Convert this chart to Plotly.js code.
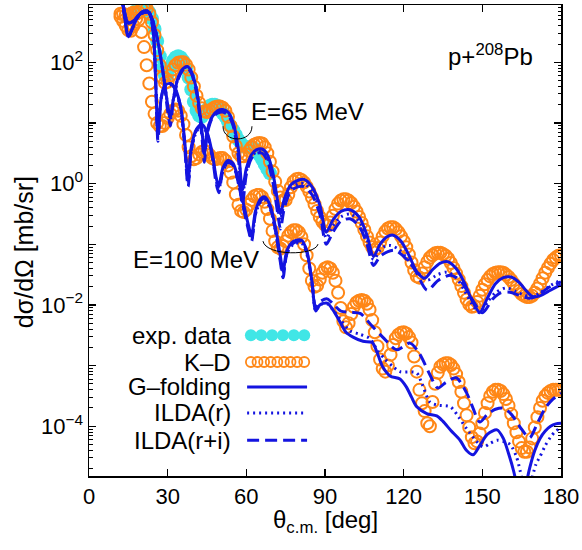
<!DOCTYPE html>
<html>
<head>
<meta charset="utf-8">
<script src="https://cdn.plot.ly/plotly-3.0.1.min.js"></script>
<style>body{margin:0;background:#fff}#chart{width:582px;height:550px}</style>
</head>
<body>
<div id="chart"></div>
<script>
// p + 208Pb elastic scattering; cross sections stored as log10(dσ/dΩ in mb/sr)

// ---------- E = 65 MeV ----------
const expAngle65 = [16,17,18,19,20,21,22,23,24,25,26,27,28,29,30,31,32,33,34,35,36,37,38,39,40,41,42,43,44,45,46,47,48,49,50,51,52,53,54,55,56,57,58,59,60,61,62,63,64,65,66,67,68,69];
const expLog65 = [2.75,2.8,2.85,2.88,2.9,2.9,2.88,2.82,2.72,2.55,2.35,2.1,1.9,1.78,1.8,1.92,2.02,2.08,2.1,2.08,2.02,1.9,1.75,1.55,1.35,1.2,1.12,1.1,1.15,1.22,1.28,1.3,1.3,1.28,1.22,1.16,1.1,1.02,0.95,0.88,0.8,0.72,0.66,0.62,0.6,0.6,0.6,0.58,0.54,0.47,0.4,0.32,0.24,0.17];

// K-D, one point per degree from 12 to 180
const kdStart65 = 12;
const kdLog65 = [2.75,2.68,2.6,2.53,2.52,2.6,2.72,2.82,2.88,2.9,2.88,2.8,2.66,2.45,2.2,1.95,1.75,1.66,1.68,1.78,
  1.88,1.95,1.99,2.0,2.0,1.96,1.88,1.75,1.6,1.45,1.33,1.24,1.19,1.18,1.2,1.23,1.26,1.27,1.27,1.25,
  1.2,1.1,0.95,0.78,0.62,0.5,0.45,0.45,0.48,0.54,0.6,0.64,0.66,0.67,0.66,0.6,0.5,0.36,0.2,0.03,
  -0.12,-0.23,-0.28,-0.27,-0.18,-0.06,0.03,0.07,0.08,0.06,0.02,-0.05,-0.13,-0.23,-0.34,-0.45,-0.55,-0.63,-0.68,-0.69,
  -0.64,-0.53,-0.42,-0.33,-0.28,-0.26,-0.26,-0.28,-0.32,-0.38,-0.46,-0.55,-0.65,-0.76,-0.87,-0.97,-1.05,-1.09,-1.06,-0.97,
  -0.87,-0.79,-0.74,-0.72,-0.72,-0.75,-0.8,-0.87,-0.95,-1.05,-1.17,-1.3,-1.43,-1.53,-1.55,-1.48,-1.38,-1.29,-1.22,-1.18,
  -1.15,-1.14,-1.14,-1.16,-1.19,-1.24,-1.31,-1.39,-1.48,-1.58,-1.69,-1.8,-1.91,-1.99,-2.03,-2.02,-1.95,-1.85,-1.75,-1.66,
  -1.59,-1.53,-1.49,-1.47,-1.46,-1.46,-1.47,-1.5,-1.54,-1.59,-1.65,-1.71,-1.77,-1.82,-1.85,-1.87,-1.87,-1.85,-1.8,-1.73,
  -1.65,-1.56,-1.47,-1.39,-1.32,-1.26,-1.22,-1.19,-1.18];

const gfAngle65 = [13,14,15,16,18,20,22,24,26,28,30,31,32,34,36,37.5,39,41,43,44,45,47,49,51,53,55,57,58.5,60,62,64,66,68,70,72,73,74.5,77,80,82,85,88,90.5,93,96,99.5,103,106,108.5,111,113.5,116,119,122,125,128,131,134,137,140,143,146,149,152,155,158,161,164,167,169,172,175,178,180];
const gfLog65 = [2.95,2.62,2.42,2.5,2.7,2.82,2.85,2.72,2.4,1.9,1.3,1.08,1.35,1.75,1.9,1.93,1.85,1.55,0.9,0.5,0.85,1.1,1.2,1.22,1.18,1.0,0.55,-0.1,0.25,0.48,0.56,0.57,0.48,0.2,-0.3,-0.5,-0.25,-0.02,0.06,0.07,-0.05,-0.35,-0.8,-0.6,-0.46,-0.43,-0.55,-0.85,-1.2,-1.0,-0.88,-0.85,-0.95,-1.18,-1.45,-1.56,-1.42,-1.31,-1.29,-1.4,-1.62,-1.92,-2.12,-1.88,-1.65,-1.55,-1.54,-1.63,-1.78,-1.86,-1.85,-1.78,-1.71,-1.67];

const ildaRAngle65 = [13,14,15,16,18,20,22,24,26,28,30,31,32,34,36,37.5,39,41,43,44,45,47,49,51,53,55,57,58.5,60,62,64,66,68,70,72,73,74.5,77,80,82,85,88,90.5,93,96,99.5,103,106,108.5,111,113,115,118,121,125,129,133,136.5,140,143,146,149,152,155,159,163,166,169,172,176,180];
const ildaRLog65 = [2.95,2.62,2.42,2.5,2.7,2.82,2.85,2.72,2.4,1.9,1.3,1.05,1.35,1.75,1.9,1.92,1.85,1.55,0.9,0.45,0.85,1.1,1.18,1.2,1.16,0.98,0.5,-0.2,0.2,0.45,0.52,0.52,0.42,0.12,-0.4,-0.6,-0.3,-0.08,0.0,0.0,-0.12,-0.42,-0.9,-0.7,-0.55,-0.5,-0.62,-0.92,-1.25,-1.1,-1.03,-1.02,-1.08,-1.22,-1.45,-1.59,-1.5,-1.46,-1.55,-1.75,-1.98,-2.13,-1.95,-1.8,-1.72,-1.78,-1.84,-1.87,-1.8,-1.68,-1.59];

const ildaRIAngle65 = [13,14,15,16,18,20,22,24,26,28,30,31,32,34,36,37.5,39,41,43,44,45,47,49,51,53,55,57,58.5,60,62,64,66,68,70,72,73,74.5,77,80,82,85,88,90.5,93,96,99.5,103,106,108.5,111,114,116.7,120,124,129,133,138,142,146,150,154,157,160.5,164,168,171,175,180];
const ildaRILog65 = [2.95,2.62,2.4,2.5,2.7,2.82,2.85,2.72,2.4,1.9,1.2,0.95,1.3,1.72,1.88,1.9,1.82,1.5,0.8,0.35,0.8,1.08,1.16,1.18,1.13,0.95,0.4,-0.35,0.15,0.42,0.5,0.5,0.38,0.05,-0.5,-0.75,-0.4,-0.12,-0.05,-0.05,-0.18,-0.5,-1.0,-0.8,-0.62,-0.58,-0.7,-1.0,-1.35,-1.2,-1.12,-1.1,-1.2,-1.4,-1.76,-1.6,-1.51,-1.62,-1.9,-2.13,-1.9,-1.8,-1.79,-1.84,-1.89,-1.85,-1.72,-1.62];

// ---------- E = 100 MeV ----------
const kdStart100 = 12;
const kdLog100 = [2.8,2.8,2.78,2.78,2.8,2.82,2.8,2.7,2.5,2.25,1.95,1.65,1.35,1.15,1.0,0.95,0.95,1.0,1.08,1.15,
  1.2,1.22,1.2,1.12,0.98,0.8,0.6,0.45,0.4,0.42,0.48,0.52,0.54,0.52,0.47,0.42,0.4,0.41,0.42,0.42,
  0.38,0.3,0.18,0.02,-0.18,-0.35,-0.45,-0.47,-0.43,-0.35,-0.27,-0.21,-0.19,-0.19,-0.22,-0.3,-0.42,-0.58,-0.78,-0.95,
  -1.05,-1.07,-1.03,-0.95,-0.86,-0.8,-0.77,-0.77,-0.8,-0.88,-1.0,-1.18,-1.4,-1.6,-1.7,-1.68,-1.58,-1.47,-1.4,-1.38,
  -1.4,-1.47,-1.6,-1.8,-2.05,-2.27,-2.37,-2.3,-2.15,-2.03,-1.96,-1.93,-1.92,-1.93,-1.98,-2.08,-2.25,-2.45,-2.68,-2.9,
  -3.05,-3.1,-3.0,-2.82,-2.66,-2.55,-2.49,-2.46,-2.45,-2.47,-2.53,-2.62,-2.85,-3.1,-3.4,-3.62,-3.75,-3.95,-4.0,-3.6,
  -3.3,-3.12,-3.02,-2.98,-2.96,-2.96,-2.99,-3.05,-3.14,-3.27,-3.43,-3.62,-3.82,-4.02,-4.18,-4.28,-4.25,-4.12,-3.95,-3.78,
  -3.62,-3.5,-3.43,-3.4,-3.4,-3.42,-3.47,-3.55,-3.66,-3.8,-3.95,-4.1,-4.25,-4.36,-4.42,-4.42,-4.35,-4.2,-4.02,-3.85,
  -3.7,-3.58,-3.5,-3.45,-3.42,-3.4,-3.4,-3.4,-3.4];

const gfAngle100 = [13,15,17,19,21,23,24.5,25.5,26.3,27.5,29,31,33,35,36.5,37.8,39,41,43,45,47,48.5,49.5,51,53,55,57,59,61,62,63.5,65.5,67,69,71,73,74,75.5,78,81,83,85,86.5,88,90.8,93,96,98,100.7,104.5,108,110,112,114.8,118.6,121,123,125,128.8,132.6,135,138,141.5,144,146.5,149,152,155.6,158,160,162,163];
const gfLog100 = [2.95,2.65,2.68,2.78,2.82,2.82,2.5,1.6,0.8,1.4,1.62,1.65,1.55,1.25,0.7,0.05,0.6,0.9,0.98,0.85,0.5,0.1,-0.05,0.25,0.38,0.33,0.05,-0.35,-0.72,-0.85,-0.45,-0.25,-0.22,-0.35,-0.7,-1.2,-1.45,-1.1,-0.95,-0.93,-1.1,-1.6,-2.1,-2.0,-1.97,-2.08,-2.3,-2.45,-2.53,-2.6,-2.62,-2.8,-3.02,-3.17,-3.22,-3.35,-3.52,-3.68,-3.79,-3.83,-3.92,-4.07,-4.23,-4.4,-4.47,-4.32,-4.13,-4.06,-4.2,-4.45,-4.75,-4.95];
const gfAngle100b = [166.5,168,170,172,174,176,178,180];
const gfLog100b = [-5.0,-4.7,-4.4,-4.2,-4.08,-4.0,-3.96,-3.95];

const ildaRAngle100 = [13,15,17,19,21,23,24.5,25.5,26.3,27.5,29,31,33,35,36.5,37.8,39,41,43,45,47,48.5,49.5,51,53,55,57,59,61,62,63.5,65.5,67,69,71,73,74,75.5,78,81,83,85,86.5,88,90.8,93,96,99.6,103,107,110,113,116,118.6,124.9,127,130,132.7,137.8,141,145,150.3,153,155.6,158,160.6,163,165];
const ildaRLog100 = [2.95,2.65,2.68,2.78,2.82,2.82,2.5,1.6,0.75,1.4,1.6,1.63,1.52,1.22,0.65,0.0,0.55,0.86,0.95,0.82,0.45,0.05,-0.1,0.2,0.34,0.3,0.0,-0.4,-0.78,-0.92,-0.5,-0.3,-0.27,-0.4,-0.76,-1.25,-1.5,-1.15,-1.0,-0.98,-1.15,-1.65,-2.1,-2.0,-1.98,-2.08,-2.25,-2.43,-2.48,-2.55,-2.75,-2.9,-3.02,-3.1,-3.12,-3.3,-3.6,-3.65,-3.68,-3.85,-4.1,-4.34,-4.28,-4.23,-4.25,-4.3,-4.5,-4.85];
const ildaRAngle100b = [169,170.5,172,174,176,178,180];
const ildaRLog100b = [-4.85,-4.62,-4.5,-4.32,-4.18,-4.08,-4.03];

const ildaRIAngle100 = [13,15,17,19,21,23,24.5,25.5,26.3,27.5,29,31,33,35,36.5,37.8,39,41,43,45,47,48.5,49.5,51,53,55,57,59,61,62,63.5,65.5,67,69,71,73,74,75.5,78,81,83,85,86.5,88,90.8,93,96,100,103.4,108,112,117.4,122.4,126,130,133,136,140,144,146,149,152,155,158,161,165,168,171,174,177,180];
const ildaRILog100 = [2.95,2.65,2.68,2.78,2.82,2.82,2.5,1.6,0.7,1.4,1.62,1.65,1.55,1.25,0.6,-0.05,0.55,0.88,0.96,0.82,0.45,0.0,-0.15,0.2,0.35,0.3,0.0,-0.42,-0.8,-0.95,-0.5,-0.28,-0.24,-0.38,-0.75,-1.3,-1.55,-1.15,-0.98,-0.95,-1.12,-1.62,-2.05,-1.95,-1.9,-1.98,-2.1,-2.12,-2.14,-2.35,-2.53,-2.74,-2.63,-2.8,-3.15,-3.37,-3.28,-3.2,-3.45,-3.65,-3.93,-3.8,-3.72,-3.7,-3.8,-4.05,-4.19,-3.95,-3.7,-3.55,-3.45];

const yTickVals = [1e-4, 1e-3, 1e-2, 1e-1, 1, 10, 100];
const yTickText = ['10<sup>\u22124</sup>', '', '10<sup>\u22122</sup>', '', '10<sup>0</sup>', '', '10<sup>2</sup>'];
const xTickVals = [0, 30, 60, 90, 120, 150, 180];

const BLUE = '#1414e0';
const ORANGE = '#ff8717';
const CYAN = '#40e6e6';
const FONT = 'Liberation Sans, Arial, Helvetica, sans-serif';

const toXS = arr => arr.map(v => Math.pow(10, v));
const degrees = (start, n) => Array.from({length: n}, (_, i) => start + i);

function lineTrace(x, logs, dash) {
  return {
    x: x, y: toXS(logs), type: 'scatter', mode: 'lines',
    line: {color: BLUE, width: 3, dash: dash, shape: 'spline', smoothing: 0.8},
    showlegend: false, hoverinfo: 'skip'
  };
}
function kdTrace(start, logs) {
  return {
    x: degrees(start, logs.length), y: toXS(logs), type: 'scatter', mode: 'markers',
    marker: {symbol: 'circle-open', size: 12, color: ORANGE, line: {color: ORANGE, width: 2}},
    showlegend: false, hoverinfo: 'skip'
  };
}

const DOT = '2px,4px';
const DASH = '12px,6px';

const traces = [
  {x: expAngle65, y: toXS(expLog65), type: 'scatter', mode: 'markers',
   marker: {symbol: 'circle', size: 14, color: CYAN}, showlegend: false, hoverinfo: 'skip'},
  kdTrace(kdStart65, kdLog65),
  kdTrace(kdStart100, kdLog100),
  lineTrace(gfAngle65, gfLog65, 'solid'),
  lineTrace(ildaRAngle65, ildaRLog65, DOT),
  lineTrace(ildaRIAngle65, ildaRILog65, DASH),
  lineTrace(gfAngle100, gfLog100, 'solid'),
  lineTrace(gfAngle100b, gfLog100b, 'solid'),
  lineTrace(ildaRAngle100, ildaRLog100, DOT),
  lineTrace(ildaRAngle100b, ildaRLog100b, DOT),
  lineTrace(ildaRIAngle100, ildaRILog100, DASH)
];

// legend block: labels on the left, samples on the right, on a helper axis pair spanning the plot area
const legendLabels = ['exp. data', 'K\u2013D', 'G\u2013folding', 'ILDA(r)', 'ILDA(r+i)'];
const legendRows = [0.299, 0.242, 0.189, 0.134, 0.076];
const sampleX0 = 0.343, sampleX1 = 0.456;

traces.push({
  x: [0.343, 0.365, 0.388, 0.411, 0.434, 0.456], y: Array(6).fill(legendRows[0]),
  xaxis: 'x2', yaxis: 'y2', type: 'scatter', mode: 'markers',
  marker: {symbol: 'circle', size: 12, color: CYAN}, showlegend: false, hoverinfo: 'skip'
});
traces.push({
  x: [0.343, 0.357, 0.371, 0.385, 0.399, 0.413, 0.427, 0.441, 0.456], y: Array(9).fill(legendRows[1]),
  xaxis: 'x2', yaxis: 'y2', type: 'scatter', mode: 'markers',
  marker: {symbol: 'circle-open', size: 10, color: ORANGE, line: {color: ORANGE, width: 1.8}}, showlegend: false, hoverinfo: 'skip'
});
[['solid', 2], [DOT, 3], [DASH, 4]].forEach(([d, r]) => {
  traces.push({
    x: [sampleX0 - 0.008, sampleX1 + 0.006], y: [legendRows[r], legendRows[r]],
    xaxis: 'x2', yaxis: 'y2', type: 'scatter', mode: 'lines',
    line: {color: BLUE, width: 3, dash: d}, showlegend: false, hoverinfo: 'skip'
  });
});

const TXT = {family: FONT, size: 24, color: '#000'};
const annotations = legendLabels.map((t, i) => ({
  text: t, xref: 'paper', yref: 'paper', x: 0.303, y: legendRows[i],
  xanchor: 'right', yanchor: 'middle', showarrow: false, borderpad: 0, font: TXT
}));
annotations.push(
  {text: 'p+<sup>208</sup>Pb', xref: 'paper', yref: 'paper', x: 0.85, y: 0.893, xanchor: 'center', yanchor: 'middle',
   showarrow: false, font: TXT},
  {text: 'E=65 MeV', xref: 'paper', yref: 'paper', x: 0.462, y: 0.774, xanchor: 'center', yanchor: 'middle',
   showarrow: false, font: TXT},
  {text: 'E=100 MeV', xref: 'paper', yref: 'paper', x: 0.227, y: 0.46, xanchor: 'center', yanchor: 'middle',
   showarrow: false, font: TXT},
  // axis titles
  {text: '\u03b8<sub>c.m.</sub> [deg]', xref: 'paper', yref: 'paper', x: 0.5, y: -0.097, xanchor: 'center', yanchor: 'middle',
   showarrow: false, font: TXT},
  {text: 'd\u03c3/d\u03a9 [mb/sr]', xref: 'paper', yref: 'paper', x: -0.138, y: 0.475, xanchor: 'center', yanchor: 'middle',
   textangle: -90, showarrow: false, font: {family: FONT, size: 25, color: '#000'}}
);

// minor ticks 2..9 in each decade
const minorVals = [];
for (let d = -5; d <= 2; d++) for (let k = 2; k <= 9; k++) minorVals.push(k * Math.pow(10, d));

const layout = {
  width: 582, height: 550,
  margin: {l: 89, r: 21, t: 5, b: 74},
  paper_bgcolor: '#fff', plot_bgcolor: '#fff',
  font: {family: FONT, size: 22, color: '#000'},
  xaxis: {
    range: [0, 180], tickmode: 'array', tickvals: xTickVals,
    ticks: 'inside', ticklen: 7, tickwidth: 1.2, tickcolor: '#000',
    showline: true, linecolor: '#000', linewidth: 1.5, mirror: 'ticks',
    showgrid: false, zeroline: false,
    tickfont: {family: FONT, size: 22}
  },
  yaxis: {
    type: 'log', range: [-4.82, 2.944], tickmode: 'array', tickvals: yTickVals, ticktext: yTickText,
    ticks: 'inside', ticklen: 7, tickwidth: 1.2, tickcolor: '#000',
    minor: {tickmode: 'array', tickvals: minorVals, ticks: 'inside', ticklen: 3.5, tickwidth: 1, tickcolor: '#000'},
    showline: true, linecolor: '#000', linewidth: 1.5, mirror: 'ticks',
    showgrid: false, zeroline: false,
    tickfont: {family: FONT, size: 22}
  },
  xaxis2: {range: [0, 1], domain: [0, 1], overlaying: 'x', visible: false, fixedrange: true},
  yaxis2: {range: [0, 1], domain: [0, 1], overlaying: 'y', visible: false, fixedrange: true},
  annotations: annotations,
  shapes: [
    {type: 'path', xref: 'paper', yref: 'paper', path: 'M 0.2839 0.7426 C 0.2839 0.7066 0.3453 0.7066 0.3453 0.7426',
     line: {color: '#000', width: 1}},
    {type: 'path', xref: 'paper', yref: 'paper', path: 'M 0.3686 0.4986 C 0.375 0.4668 0.4788 0.4668 0.4852 0.4923',
     line: {color: '#000', width: 1}}
  ],
  showlegend: false
};

Plotly.newPlot('chart', traces, layout, {displayModeBar: false, staticPlot: true});
</script>
</body>
</html>
